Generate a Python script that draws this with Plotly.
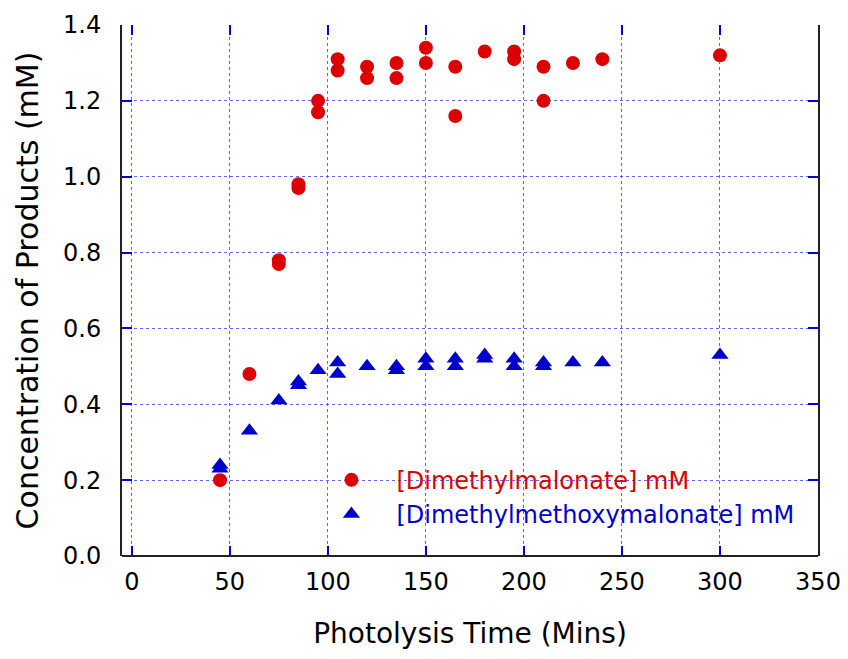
import plotly.graph_objects as go

# Photolysis time (minutes) and product concentrations (mM)
time_dmm = [45, 60, 75, 75, 85, 85, 95, 95, 105, 105, 120, 120, 135, 135,
            150, 150, 165, 165, 180, 195, 195, 210, 210, 225, 240, 300]
conc_dmm = [0.20, 0.48, 0.78, 0.77, 0.98, 0.97, 1.20, 1.17, 1.31, 1.28, 1.29, 1.26, 1.30, 1.26,
            1.34, 1.30, 1.29, 1.16, 1.33, 1.33, 1.31, 1.29, 1.20, 1.30, 1.31, 1.32]

time_dmmm = [45, 45, 60, 75, 85, 85, 95, 105, 105, 120, 135, 135, 150, 150,
             165, 165, 180, 180, 195, 195, 210, 210, 225, 240, 300]
conc_dmmm = [0.24, 0.23, 0.33, 0.41, 0.46, 0.45, 0.49, 0.51, 0.48, 0.50, 0.50, 0.49, 0.52, 0.50,
             0.52, 0.50, 0.53, 0.52, 0.52, 0.50, 0.51, 0.50, 0.51, 0.51, 0.53]

x_ticks = [0, 50, 100, 150, 200, 250, 300, 350]
y_ticks = [0.0, 0.2, 0.4, 0.6, 0.8, 1.0, 1.2, 1.4]
y_tick_labels = ["0.0", "0.2", "0.4", "0.6", "0.8", "1.0", "1.2", "1.4"]

RED = "#dd0000"
BLUE = "#0000cc"
FONT = "DejaVu Sans"

fig = go.Figure()
fig.add_trace(go.Scatter(
    x=time_dmm, y=conc_dmm, mode="markers",
    name=f"<span style='color:{RED}'>[Dimethylmalonate] mM</span>",
    marker=dict(symbol="circle", size=14, color=RED),
))
fig.add_trace(go.Scatter(
    x=time_dmmm, y=conc_dmmm, mode="markers",
    name=f"<span style='color:{BLUE}'>[Dimethylmethoxymalonate] mM</span>",
    marker=dict(symbol="triangle-up", size=15, color=BLUE),
))

grid = dict(showgrid=True, gridcolor="rgba(60,60,255,0.8)", gridwidth=1, griddash="dot")
tick = dict(ticks="inside", ticklen=10, tickwidth=2, tickcolor="#0000dd")

fig.update_layout(
    width=848, height=659,
    margin=dict(l=114, r=38, t=17, b=111, autoexpand=False),
    paper_bgcolor="white", plot_bgcolor="white",
    font=dict(family=FONT, size=24, color="black"),
    showlegend=True,
    legend=dict(
        x=0.265, y=0.185, xanchor="left", yanchor="top",
        bgcolor="rgba(255,255,255,0)", borderwidth=0,
        font=dict(family=FONT, size=24), itemwidth=80,
        tracegroupgap=0,
    ),
    xaxis=dict(
        range=[-5, 350], tickvals=x_ticks, zeroline=False, automargin=False,
        showline=False, mirror="ticks",
        tickfont=dict(family=FONT, size=24), ticklabelstandoff=9,
        title=dict(text="Photolysis Time (Mins)", font=dict(family=FONT, size=28), standoff=28),
        **grid, **tick,
    ),
    yaxis=dict(
        range=[0, 1.4], tickvals=y_ticks, ticktext=y_tick_labels, zeroline=False, automargin=False,
        showline=True, linecolor="#222222", linewidth=2, mirror="ticks",
        tickfont=dict(family=FONT, size=24), ticklabelstandoff=14,
        title=dict(text="Concentration of Products (mM)", font=dict(family=FONT, size=30), standoff=16),
        **grid, **tick,
    ),
    shapes=[
        dict(type="rect", xref="paper", yref="paper", layer="between",
             x0=0.253, x1=1.0, y0=0.036, y1=0.196,
             fillcolor="white", line=dict(width=0)),
        dict(type="line", xref="paper", yref="paper", layer="above",
             x0=0, x1=1, y0=0, y1=0, line=dict(color="#222222", width=2)),
    ],
)

fig.write_html("out.html")
